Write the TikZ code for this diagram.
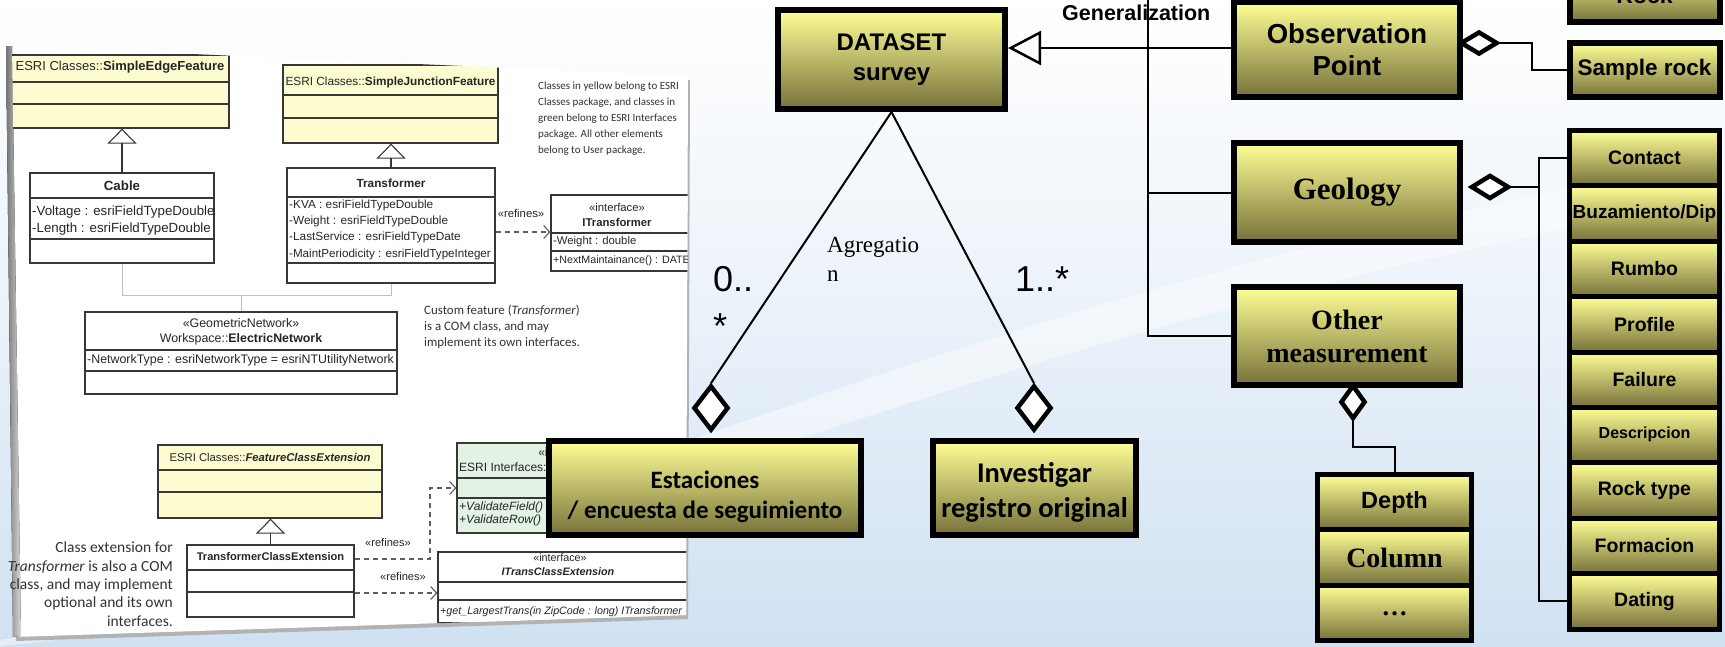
\documentclass[tikz,border=0pt]{standalone}
\usepackage{fontspec}
\setmainfont{Liberation Sans}
\newfontfamily\tnr{Liberation Serif}
\newfontfamily\calf{Carlito}
\newfontfamily\notef{Carlito}
\usetikzlibrary{shapes.geometric,arrows.meta}
\definecolor{ytop}{RGB}{255,255,150}
\definecolor{ybot}{RGB}{118,113,58}
\definecolor{bgblue}{RGB}{208,225,242}
\definecolor{umly}{RGB}{253,251,208}
\definecolor{umlg}{RGB}{226,242,228}
\definecolor{umlline}{RGB}{55,55,55}
\newcommand{\setfs}[2]{\fontsize{#1}{#2}\selectfont}
\newcommand{\usep}[2]{\draw[umlsep] (#1.west |- 0,#2) -- (#1.east |- 0,#2);}
\tikzset{
  ybox/.style={draw=black, line width=6pt, top color=ytop, bottom color=ybot, inner sep=0pt, align=center},
  cell/.style={ybox, line width=5pt, minimum width=150pt, minimum height=55.4pt, font=\setfs{19.5}{24}\bfseries},
  agg/.style={diamond, draw=black, fill=white, line width=4.5pt, inner sep=0pt},
  con/.style={draw=black, line width=2pt},
  uml/.style={draw=umlline, line width=1.2pt, inner sep=0pt},
  umlsep/.style={draw=umlline, line width=1.1pt},
  ut/.style={inner sep=0pt, font=\setfs{#1}{#1}, text=black!85},
  ut/.default=12,
  gen/.style={draw=umlline, line width=1.1pt, -{Triangle[open,length=15pt,width=29pt]}},
  dep/.style={draw=umlline!80, line width=1.1pt, dash pattern=on 5pt off 4pt, -{Straight Barb[length=6pt,width=13pt]}},
  wire/.style={draw=black!25, line width=1pt},
  notet/.style={inner sep=0pt, align=left, text=black!80},
  mult/.style={inner sep=0pt, font=\setfs{36}{40}},
}
\begin{document}
\begin{tikzpicture}[x=1pt,y=-1pt]
\useasboundingbox (0,0) rectangle (1725,646);
\clip (0,0) rectangle (1725,646);
% background
\fill[top color=white, bottom color=bgblue, middle color=bgblue!45] (0,0) rectangle (1725,646);
\fill[white, opacity=0.45] (0,640) .. controls (500,560) and (900,300) .. (1725,160) -- (1725,200) .. controls (900,340) and (500,600) .. (0,646) -- cycle;

% ---------------- left panel ----------------
\fill[black!30] (9,50) -- (690,80) -- (688,619) -- (16,641) -- cycle;
\fill[white] (7,46) -- (688,76) -- (686,615) -- (14,637) -- cycle;
\fill[left color=black!55, right color=black!15] (6,46) -- (12,46) -- (21,636) -- (13,637) -- cycle;
\begin{scope}
\clip (12,46) -- (688,76) -- (686,615) -- (21,637) -- cycle;
% SimpleEdgeFeature
\node[uml, fill=umly, minimum width=218pt, minimum height=73pt] (sef) at (120,91.5) {};
\node[ut=13] (sefT) at (120,67) {ESRI Classes::\textbf{SimpleEdgeFeature}};
\usep{sef}{82}\usep{sef}{104}
% Cable
\node[uml, fill=white, minimum width=184pt, minimum height=90pt] (cable) at (122,218) {};
\node[ut=13.3] (cableT) at (122,186) {\textbf{Cable}};
\usep{cable}{198}\usep{cable}{239}
\node[ut=13.3, anchor=west] (cableA) at (32,212) {-Voltage : esriFieldTypeDouble};
\node[ut=13.3, anchor=west] (cableB) at (32,229) {-Length : esriFieldTypeDouble};
\draw[gen] (cable.north) -- (cable.north |- sef.south);
% SimpleJunctionFeature
\node[uml, fill=umly, minimum width=215pt, minimum height=78pt] (sjf) at (390.5,104) {};
\node[ut=11.8] (sjfT) at (390.5,82) {ESRI Classes::\textbf{SimpleJunctionFeature}};
\usep{sjf}{95}\usep{sjf}{118}
% Transformer
\node[uml, fill=white, minimum width=208pt, minimum height=115pt] (trans) at (391,225.5) {};
\node[ut=11.8] (transT) at (391,183) {\textbf{Transformer}};
\usep{trans}{197}\usep{trans}{263}
\node[ut=11.8, anchor=west] (transA) at (289,205) {-KVA : esriFieldTypeDouble};
\node[ut=11.8, anchor=west] (transB) at (289,221) {-Weight : esriFieldTypeDouble};
\node[ut=11.8, anchor=west] (transC) at (289,237) {-LastService : esriFieldTypeDate};
\node[ut=11.6, anchor=west] (transD) at (289,254) {-MaintPeriodicity : esriFieldTypeInteger};
\draw[gen] (trans.north) -- (trans.north |- sjf.south);
% ITransformer
\node[uml, fill=white, minimum width=139pt, minimum height=76pt] (itr) at (620.5,233) {};
\node[ut=11.3] (itrS) at (617,207) {«interface»};
\node[ut=11.3] (itrT) at (617,222) {\textbf{ITransformer}};
\usep{itr}{233}\usep{itr}{251}
\node[ut=11.3, anchor=west] (itrA) at (553,242) {-Weight : double};
\node[ut=10.7, anchor=west] (itrB) at (553,261) {+NextMaintainance() : DATE};
\draw[dep] (trans.east |- 0,232) -- (itr.west |- 0,232);
\node[ut=11.3] (ref1) at (521,213) {«refines»};
% note
\node[notet, anchor=north west, font=\notef\setfs{11}{16}] (note1) at (538,82) {Classes in yellow belong to ESRI\\Classes package, and classes in\\green belong to ESRI Interfaces\\package. All other elements\\belong to User package.};
% wires
\coordinate (jy) at (0,295);
\draw[wire] (cable.south) |- (trans.south |- jy) -- (trans.south);
% ElectricNetwork
\node[uml, fill=white, minimum width=312pt, minimum height=82pt] (enet) at (241,353) {};
\draw[wire] (enet.north) -- (enet.north |- jy);
\node[ut=12.4] (enetS) at (241,323) {«GeometricNetwork»};
\node[ut=12.4] (enetT) at (241,339) {Workspace::\textbf{ElectricNetwork}};
\usep{enet}{350}\usep{enet}{371}
\node[ut=12.4, anchor=west] (enetA) at (87,360) {-NetworkType : esriNetworkType = esriNTUtilityNetwork};
\node[notet, anchor=north west, font=\notef\setfs{12.9}{16}] (note2) at (424,305) {Custom feature (\textit{Transformer})\\is a COM class, and may\\implement its own interfaces.};
% FeatureClassExtension
\node[uml, fill=umly, minimum width=224pt, minimum height=73pt] (fce) at (270,481.5) {};
\node[ut=11.3] (fceT) at (270,457) {ESRI Classes::\textbf{\textit{FeatureClassExtension}}};
\usep{fce}{470}\usep{fce}{492}
% TransformerClassExtension
\node[uml, fill=white, minimum width=167pt, minimum height=72pt] (tce) at (270.5,581) {};
\node[ut=11.1] (tceT) at (270.5,557) {\textbf{TransformerClassExtension}};
\usep{tce}{570}\usep{tce}{592}
\draw[gen] (tce.north) -- (tce.north |- fce.south);
% ESRI Interfaces
\node[uml, fill=umlg, minimum width=233pt, minimum height=90pt] (eint) at (573.5,488) {};
\node[ut=12] (eintS) at (568,452) {«interface»};
\node[ut=12, anchor=west] (eintT) at (459,467) {ESRI Interfaces::};
\usep{eint}{478}\usep{eint}{498}
\node[ut=12, anchor=west] (eintA) at (459,507) {\textit{+ValidateField()}};
\node[ut=12, anchor=west] (eintB) at (459,520) {\textit{+ValidateRow()}};
% ITransClassExtension
\node[uml, fill=white, minimum width=252pt, minimum height=71pt] (itce) at (564,587.5) {};
\node[ut=10.8] (itceS) at (560,558) {«interface»};
\node[ut=10.8] (itceT) at (558,572) {\textbf{\textit{ITransClassExtension}}};
\usep{itce}{582}\usep{itce}{600}
\node[ut=10.7, anchor=west] (itceA) at (440,612) {\textit{+get\_LargestTrans(in ZipCode : long) ITransformer}};
\coordinate (b1) at (430,488);
\draw[dep] (tce.east |- 0,559) -| (b1) -- (eint.west |- b1);
\draw[dep] (tce.east |- 0,593) -- (itce.west |- 0,593);
\node[ut=11.1] (ref2) at (388,543) {«refines»};
\node[ut=11.1] (ref3) at (403,577) {«refines»};
\end{scope}
\node[notet, anchor=north east, align=right, font=\notef\setfs{15.5}{18.3}] (note3) at (173,542) {Class extension for\\\textit{Transformer} is also a COM\\class, and may implement\\optional and its own\\interfaces.};

% ---------------- right diagram ----------------
\node[ybox, minimum width=227pt, minimum height=99pt, font=\setfs{24}{30}\bfseries] (dataset) at (891.5,59.5) {DATASET\\survey};
\node[ybox, minimum width=226pt, minimum height=95pt, font=\setfs{27.5}{32}\bfseries] (obs) at (1347,49.5) {Observation\\Point};
\node[ybox, minimum width=226pt, minimum height=99pt, font=\tnr\setfs{31}{34}\bfseries] (geo) at (1347,192.5) {Geology};
\node[ybox, minimum width=226pt, minimum height=98pt, font=\tnr\setfs{28}{33}\bfseries] (other) at (1347,336) {Other\\measurement};
\node[ybox, minimum width=150pt, minimum height=54pt, font=\setfs{23}{26}\bfseries] (rock) at (1644.5,-5) {Rock};
\node[ybox, minimum width=150pt, minimum height=54pt, font=\setfs{22.5}{26}\bfseries] (sample) at (1644.5,70) {Sample rock};
\node[ybox, minimum width=312pt, minimum height=94pt] (est) at (705,488) {};
\node[inner sep=0pt, align=center, font=\calf\setfs{25}{30}\bfseries] (estT) at (705,497) {Estaciones\\/ encuesta de seguimiento};
\node[ybox, minimum width=203pt, minimum height=94pt] (inv) at (1034.5,488) {};
\node[inner sep=0pt, align=center, font=\calf\setfs{28.5}{35}\bfseries] (invT) at (1034.5,492) {Investigar\\registro original};

% column of geology attributes
\node[cell] (c1) at (1644.5,158.2) {Contact};
\node[cell, font=\setfs{19}{24}\bfseries] (c2) at (1644.5,213.6) {Buzamiento/Dip};
\node[cell] (c3) at (1644.5,269.0) {Rumbo};
\node[cell] (c4) at (1644.5,324.4) {Profile};
\node[cell] (c5) at (1644.5,379.8) {Failure};
\node[cell, font=\setfs{16}{20}\bfseries] (c6) at (1644.5,435.2) {\raisebox{5pt}{Descripcion}};
\node[cell] (c7) at (1644.5,490.6) {Rock type};
\node[cell] (c8) at (1644.5,546.0) {Formacion};
\node[cell] (c9) at (1644.5,601.4) {Dating};

% depth stack
\node[cell, minimum width=154pt, font=\setfs{23.5}{26}\bfseries] (d1) at (1394.5,502.2) {Depth};
\node[cell, minimum width=154pt, font=\tnr\setfs{28}{30}\bfseries] (d2) at (1394.5,557.5) {Column};
\node[cell, minimum width=154pt, font=\tnr\setfs{26}{30}\bfseries] (d3) at (1394.5,612.8) {\raisebox{-6pt}{\dots}};

% generalization
\coordinate (gy) at (0,48);
\coordinate (gtop) at (1148,0);
\draw[con, -{Triangle[open,length=33pt,width=34pt,line width=2.5pt]}] (obs.west |- gy) -- (dataset.east |- gy);
\draw[con] (gtop) |- (other.west);
\draw[con] (gtop |- geo.west) -- (geo.west);
\node[anchor=base west, inner sep=0pt, font=\setfs{21.5}{24}\bfseries] (genlab) at (1062,20) {Generalization};

% aggregation to observation
\node[agg, minimum width=37pt, minimum height=23pt] (od) at (1479,43) {};
\draw[con] (od.east) -- ++(32,0) |- (sample.west);
% aggregation to geology
\node[agg, minimum width=38pt, minimum height=24pt] (gd) at (1490,187) {};
\coordinate (gbus) at (1539,187);
\draw[con] (gd.east) -- (gbus);
\draw[con] (c1.west) -| (gbus) |- (c9.west);
% aggregation to other measurement
\node[agg, minimum width=25pt, minimum height=34pt] (omd) at (1353,402) {};
\draw[con] (omd.south) -- ++(0,26) -| (d1.north);

% aggregation dataset
\node[agg, minimum width=35pt, minimum height=45pt] (ed) at (711,408) {};
\node[agg, minimum width=35pt, minimum height=45pt] (idm) at (1034,408) {};
\draw[con] (dataset.south) -- (ed.north);
\draw[con] (dataset.south) -- (idm.north);

% labels
\node[mult, anchor=base west] (m0a) at (713,291) {0..};
\node[mult, anchor=base west] (m0b) at (713,338) {*};
\node[mult, anchor=base west] (m1) at (1015,291) {1..*};
\node[anchor=base west, inner sep=0pt, align=left, font=\tnr\setfs{23}{29}] (aglab) at (827,281) {Agregatio\\n};
\end{tikzpicture}
\end{document}
